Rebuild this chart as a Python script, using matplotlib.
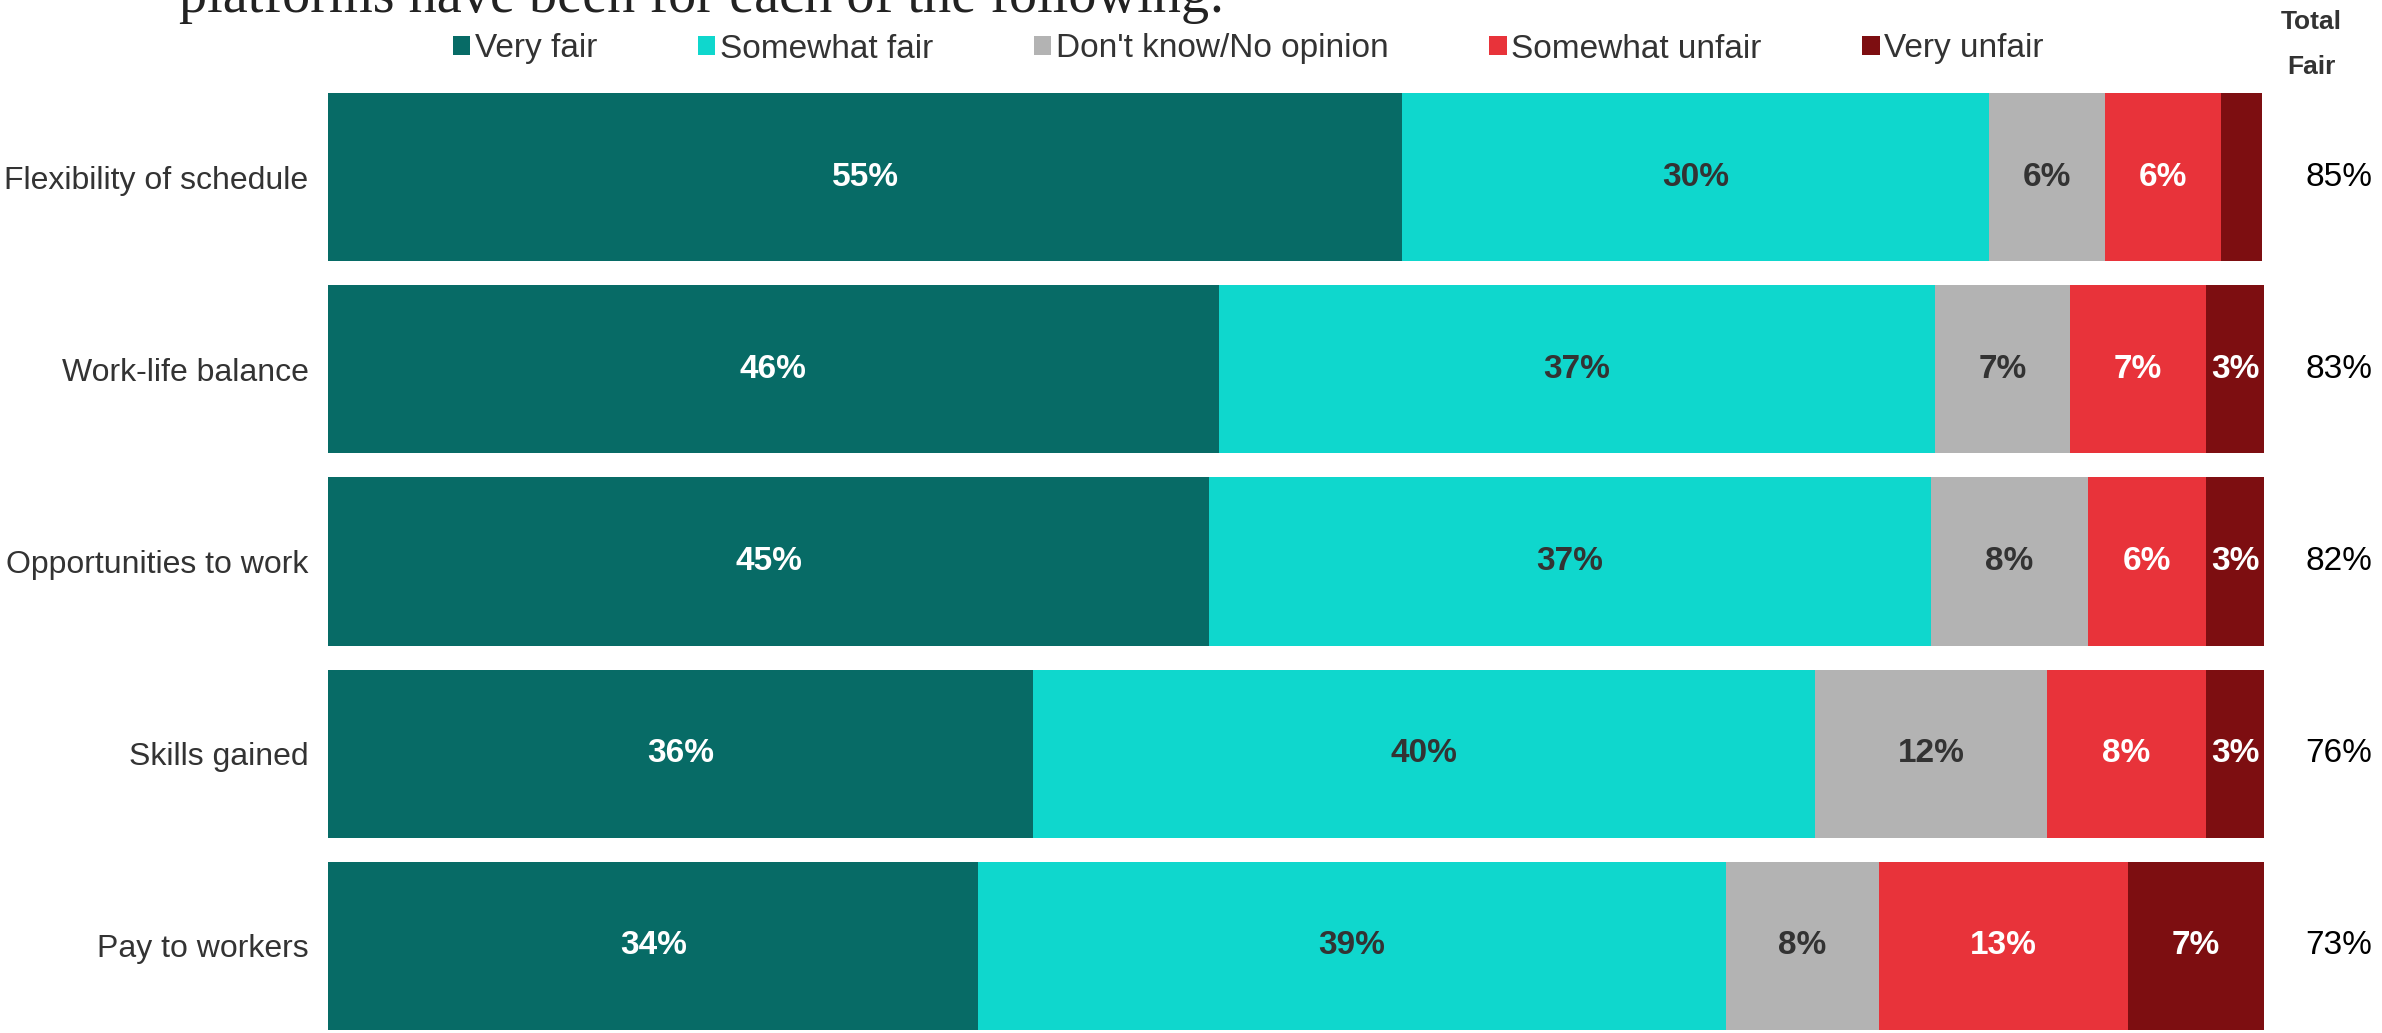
import numpy as np
import matplotlib.pyplot as plt
from matplotlib.patches import Patch

plt.rcParams['font.family'] = ['Liberation Sans', 'DejaVu Sans']

categories = ['Flexibility of schedule', 'Work-life balance', 'Opportunities to work',
              'Skills gained', 'Pay to workers']
series = ['Very fair', 'Somewhat fair', "Don't know/No opinion", 'Somewhat unfair', 'Very unfair']

# bar lengths (unrounded)
very_fair = [55.5, 46.0, 45.5, 36.4, 33.6]
somewhat_fair = [30.3, 37.0, 37.3, 40.4, 38.6]
dont_know = [6.0, 7.0, 8.1, 12.0, 7.9]
somewhat_unfair = [6.0, 7.0, 6.1, 8.2, 12.9]
very_unfair = [2.1, 3.0, 3.0, 3.0, 7.0]

# printed labels
lab_very_fair = ['55%', '46%', '45%', '36%', '34%']
lab_somewhat_fair = ['30%', '37%', '37%', '40%', '39%']
lab_dont_know = ['6%', '7%', '8%', '12%', '8%']
lab_somewhat_unfair = ['6%', '7%', '6%', '8%', '13%']
lab_very_unfair = ['', '3%', '3%', '3%', '7%']

total_fair = ['85%', '83%', '82%', '76%', '73%']

colors = ['#076b66', '#0fd7cd', '#b3b3b3', '#e8333a', '#7d0e11']
text_colors = ['white', '#333333', '#333333', 'white', 'white']

W, H = 2382, 1033
fig = plt.figure(figsize=(W / 100, H / 100), dpi=100)
ax = fig.add_axes([328 / W, 3 / H, 1936 / W, 937 / H])

values = [very_fair, somewhat_fair, dont_know, somewhat_unfair, very_unfair]
labels = [lab_very_fair, lab_somewhat_fair, lab_dont_know, lab_somewhat_unfair, lab_very_unfair]
y = np.arange(len(categories))
left = np.zeros(len(categories))
bh = 0.875
for vals, labs, c, tc in zip(values, labels, colors, text_colors):
    vals = np.array(vals)
    ax.barh(y, vals, left=left, height=bh, color=c, edgecolor='none')
    for yi, (l, v, t) in enumerate(zip(left, vals, labs)):
        if t:
            ax.text(l + v / 2, yi, t, ha='center', va='center', color=tc,
                    fontsize=24, fontweight='bold')
    left += vals

ax.set_xlim(0, left.max())
ax.set_ylim(len(categories) - 1 + bh / 2, -bh / 2)
ax.set_yticks(y)
ax.set_yticklabels(categories, fontsize=23, color='#333333')
ax.tick_params(axis='y', length=0, pad=14)
ax.set_xticks([])
for s in ax.spines.values():
    s.set_visible(False)

# total fair column
for yi, t in enumerate(total_fair):
    ax.text(1.0212, yi, t, transform=ax.get_yaxis_transform(), ha='left', va='center',
            fontsize=24, color='black')
fig.text(2311 / W, 1 - 22 / H, 'Total', ha='center', va='center', fontsize=19,
         fontweight='bold', color='#333333')
fig.text(2311 / W, 1 - 67 / H, 'Fair', ha='center', va='center', fontsize=19,
         fontweight='bold', color='#333333')

# title, cut off at the top
fig.text(179 / W, 1 - 12 / H, 'platforms have been for each of the following:',
         ha='left', va='baseline', fontsize=40.5, family='Liberation Serif', color='#222222')

handles = [Patch(facecolor=c, edgecolor='none') for c in colors]
fig.legend(handles, series, loc='center left', bbox_to_anchor=(453 / W, 1 - 49 / H),
           ncol=5, frameon=False, fontsize=24, handlelength=0.52, handleheight=0.52,
           handletextpad=0.14, columnspacing=3.02, borderpad=0, borderaxespad=0,
           labelcolor='#333333')

fig.savefig('out.png', dpi=100)
